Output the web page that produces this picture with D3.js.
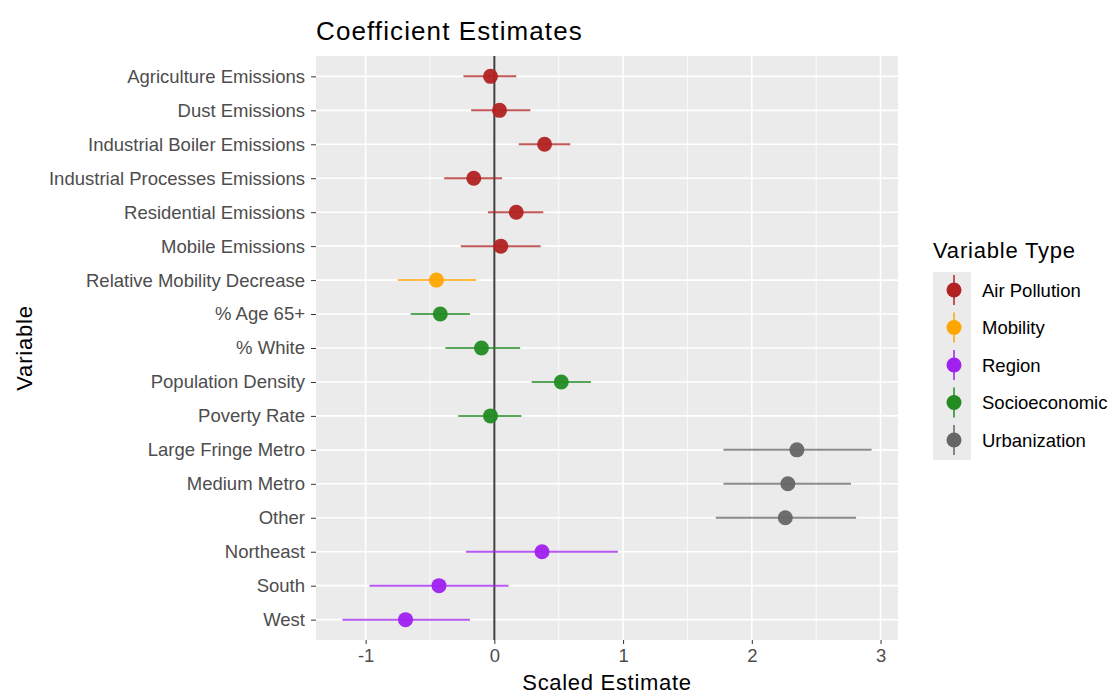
<!DOCTYPE html>
<html>
<head>
<meta charset="utf-8">
<script src="https://cdn.jsdelivr.net/npm/d3@7"></script>
<style>
  body { margin: 0; background: #fff; font-family: "Liberation Sans", Arial, sans-serif; }
  .x-axis text, .y-axis text { fill: #4d4d4d; font-size: 18.5px; font-family: "Liberation Sans", Arial, sans-serif; }
  .x-axis line, .y-axis line { stroke: #333; }
</style>
</head>
<body>
<div id="chart-area"></div>
<script>
var variables = ["Agriculture Emissions", "Dust Emissions", "Industrial Boiler Emissions",
    "Industrial Processes Emissions", "Residential Emissions", "Mobile Emissions",
    "Relative Mobility Decrease", "% Age 65+", "% White", "Population Density",
    "Poverty Rate", "Large Fringe Metro", "Medium Metro", "Other",
    "Northeast", "South", "West"];
var types = ["Air Pollution", "Air Pollution", "Air Pollution", "Air Pollution", "Air Pollution", "Air Pollution",
    "Mobility", "Socioeconomic", "Socioeconomic", "Socioeconomic", "Socioeconomic",
    "Urbanization", "Urbanization", "Urbanization", "Region", "Region", "Region"];
var estimates = [-0.03, 0.04, 0.39, -0.16, 0.17, 0.05, -0.45, -0.42, -0.10, 0.52, -0.03,
    2.35, 2.28, 2.26, 0.37, -0.43, -0.69];
var lower = [-0.24, -0.18, 0.19, -0.39, -0.05, -0.26, -0.75, -0.65, -0.38, 0.29, -0.28,
    1.78, 1.78, 1.72, -0.22, -0.97, -1.18];
var upper = [0.17, 0.28, 0.59, 0.06, 0.38, 0.36, -0.14, -0.19, 0.20, 0.75, 0.21,
    2.93, 2.77, 2.81, 0.96, 0.11, -0.19];
var typeNames = ["Air Pollution", "Mobility", "Region", "Socioeconomic", "Urbanization"];
var typeColors = ["#B22222", "#FFA500", "#A020F0", "#228B22", "#666666"];
var xTicks = [-1, 0, 1, 2, 3];
var xMinor = [-0.5, 0.5, 1.5, 2.5];

var W = 1111, H = 694;
var margin = { top: 56, left: 316, right: 213, bottom: 54 };
var width = W - margin.left - margin.right;
var height = H - margin.top - margin.bottom;

var data = variables.map(function(v, i) {
    return { name: v, type: types[i], est: estimates[i], lo: lower[i], hi: upper[i] };
});

var svg = d3.select("#chart-area")
    .append("svg")
        .attr("width", W)
        .attr("height", H);

var g = svg.append("g")
    .attr("transform", "translate(" + margin.left + ", " + margin.top + ")");

var lo = d3.min(lower), hi = d3.max(upper);
var pad = (hi - lo) * 0.05;
var x = d3.scaleLinear()
    .domain([lo - pad, hi + pad])
    .range([0, width]);

var y = d3.scalePoint()
    .domain(variables)
    .range([0, height])
    .padding(0.6);

var color = d3.scaleOrdinal()
    .domain(typeNames)
    .range(typeColors);

// panel
g.append("rect")
    .attr("width", width)
    .attr("height", height)
    .attr("fill", "#EBEBEB");

g.selectAll(".minor")
    .data(xMinor)
    .enter()
    .append("line")
        .attr("x1", function(d) { return x(d); })
        .attr("x2", function(d) { return x(d); })
        .attr("y1", 0)
        .attr("y2", height)
        .attr("stroke", "#fff")
        .attr("stroke-width", 0.8);

g.selectAll(".major")
    .data(xTicks)
    .enter()
    .append("line")
        .attr("x1", function(d) { return x(d); })
        .attr("x2", function(d) { return x(d); })
        .attr("y1", 0)
        .attr("y2", height)
        .attr("stroke", "#fff")
        .attr("stroke-width", 1.6);

g.selectAll(".hgrid")
    .data(variables)
    .enter()
    .append("line")
        .attr("x1", 0)
        .attr("x2", width)
        .attr("y1", function(d) { return y(d); })
        .attr("y2", function(d) { return y(d); })
        .attr("stroke", "#fff")
        .attr("stroke-width", 1.6);

// zero line
g.append("line")
    .attr("x1", x(0))
    .attr("x2", x(0))
    .attr("y1", 0)
    .attr("y2", height)
    .attr("stroke", "#000")
    .attr("stroke-opacity", 0.75)
    .attr("stroke-width", 2);

// error bars
g.selectAll(".err")
    .data(data)
    .enter()
    .append("line")
        .attr("x1", function(d) { return x(d.lo); })
        .attr("x2", function(d) { return x(d.hi); })
        .attr("y1", function(d) { return y(d.name); })
        .attr("y2", function(d) { return y(d.name); })
        .attr("stroke", function(d) { return color(d.type); })
        .attr("stroke-opacity", 0.75)
        .attr("stroke-width", 2);

g.selectAll(".pt")
    .data(data)
    .enter()
    .append("circle")
        .attr("cx", function(d) { return x(d.est); })
        .attr("cy", function(d) { return y(d.name); })
        .attr("r", 7.5)
        .attr("fill", function(d) { return color(d.type); })
        .attr("fill-opacity", 0.95);

// axes
var xAxisCall = d3.axisBottom(x)
    .tickValues(xTicks)
    .tickSize(4)
    .tickPadding(5)
    .tickFormat(function(d) { return String(d); });

g.append("g")
    .attr("class", "x-axis")
    .attr("transform", "translate(0, " + height + ")")
    .call(xAxisCall)
    .call(function(a) { a.select(".domain").remove(); });

var yAxisCall = d3.axisLeft(y)
    .tickSize(5)
    .tickPadding(6);

g.append("g")
    .attr("class", "y-axis")
    .call(yAxisCall)
    .call(function(a) { a.select(".domain").remove(); });

// titles
svg.append("text")
    .attr("x", margin.left)
    .attr("y", 40)
    .attr("font-size", "26px")
    .attr("letter-spacing", "1.1px")
    .attr("fill", "#000")
    .text("Coefficient Estimates");

svg.append("text")
    .attr("x", margin.left + width / 2)
    .attr("y", 690)
    .attr("font-size", "22px")
    .attr("letter-spacing", "0.7px")
    .attr("text-anchor", "middle")
    .text("Scaled Estimate");

svg.append("text")
    .attr("transform", "translate(32, " + (margin.top + height / 2) + ") rotate(-90)")
    .attr("font-size", "22px")
    .attr("letter-spacing", "0.8px")
    .attr("text-anchor", "middle")
    .text("Variable");

// legend
var legend = svg.append("g")
    .attr("transform", "translate(932, 258)");

legend.append("text")
    .attr("x", 1)
    .attr("y", 0)
    .attr("font-size", "22px")
    .attr("letter-spacing", "0.8px")
    .text("Variable Type");

legend.append("rect")
    .attr("x", 1)
    .attr("y", 14)
    .attr("width", 38)
    .attr("height", 188)
    .attr("fill", "#EBEBEB");

var keys = legend.selectAll(".key")
    .data(typeNames)
    .enter()
    .append("g")
        .attr("transform", function(d, i) { return "translate(22, " + (32 + i * 37.5) + ")"; });

keys.append("line")
    .attr("y1", -15)
    .attr("y2", 15)
    .attr("stroke", function(d) { return color(d); })
    .attr("stroke-opacity", 0.75)
    .attr("stroke-width", 2);

keys.append("circle")
    .attr("r", 7.5)
    .attr("fill", function(d) { return color(d); });

keys.append("text")
    .attr("x", 28)
    .attr("y", 6.5)
    .attr("font-size", "18.5px")
    .attr("fill", "#000")
    .text(function(d) { return d; });
</script>
</body>
</html>
